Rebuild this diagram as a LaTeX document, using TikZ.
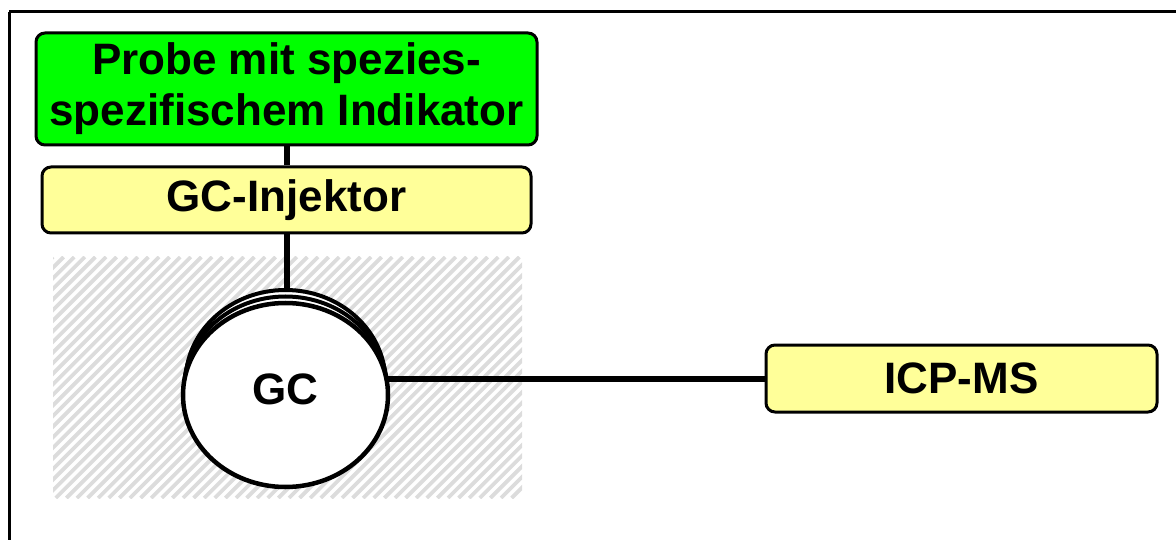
\documentclass[tikz,border=0pt]{standalone}
\usepackage{fontspec}
\setmainfont{Liberation Sans}
\usepackage{tikz}
\usetikzlibrary{shapes.geometric}

\definecolor{probegreen}{RGB}{0,255,0}
\definecolor{unitfill}{RGB}{255,255,153}
\definecolor{hatchgray}{RGB}{220,220,220}

\begin{document}
\begin{tikzpicture}[x=1pt,y=1pt,
  unit/.style={draw,line width=3pt,rounded corners=9pt,fill=unitfill,inner sep=0pt,
    font=\fontsize{44}{51}\selectfont\bfseries,align=center},
  link/.style={line width=6pt},
  column/.style={draw,line width=4.5pt,fill=white,ellipse,inner sep=0pt}]
\useasboundingbox (0,0) rectangle (1176,539);
\clip (0,0) rectangle (1176,539);
\draw[line width=3pt] (9,527) -- (1200,527);
\draw[line width=3pt] (9,527) -- (9,-20);
% oven
\begin{scope}
\clip (53,41) rectangle (522,282);
\foreach \i in {0,...,66}
  \draw[hatchgray,line width=3.8pt] (-188+10.6*\i,41) -- ++(241,241);
\end{scope}
\node[unit,fill=probegreen,minimum width=501pt,minimum height=112pt] (probe) at (286.5,450)
  {Probe mit spezies-\\spezifischem Indikator};
\node[unit,minimum width=489pt,minimum height=66pt] (inj) at (286.5,339) {GC-Injektor};
\node[unit,minimum width=391pt,minimum height=67pt] (icp) at (961.5,160.5) {ICP-MS};
\coordinate (gcc) at (285.5,144);
\draw[link] (probe.south) -- (inj.north);
\draw[link] (inj.south) -- (inj.south |- gcc);
\draw[link] (icp.west) -- (icp.west -| gcc);
% column coils
\draw[line width=4pt,fill=white] (285.5,157) ellipse (100pt and 92pt);
\draw[line width=4pt,fill=white] (285.5,150.5) ellipse (101.5pt and 92pt);
\node[column,minimum width=205pt,minimum height=184pt] (gc) at (gcc) {};
\node[font=\fontsize{44}{51}\selectfont\bfseries] at (285,150) {GC};
\end{tikzpicture}
\end{document}
